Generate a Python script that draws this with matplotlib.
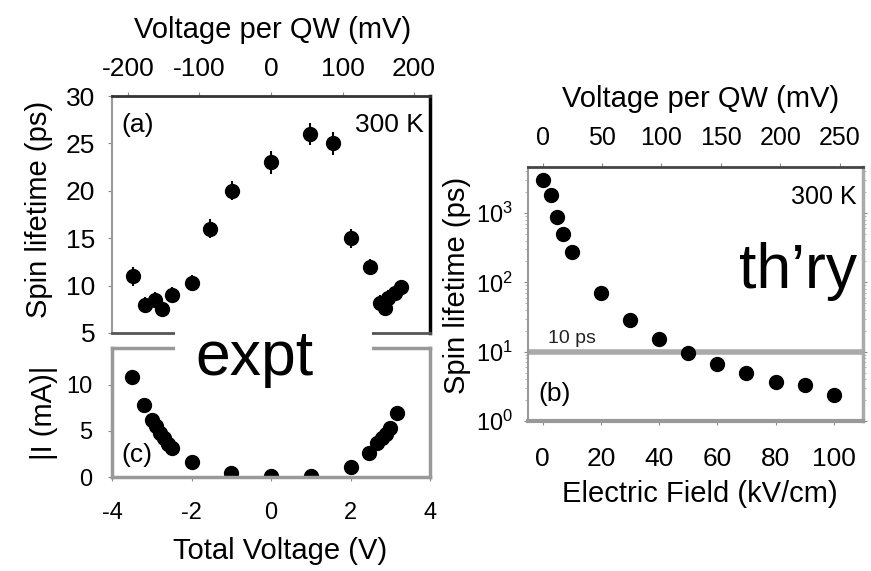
import matplotlib
matplotlib.use('Agg')
import matplotlib.pyplot as plt
from matplotlib.patches import Rectangle
from matplotlib.ticker import LogLocator, NullFormatter, FixedLocator

plt.rcParams['font.family'] = ['Liberation Sans', 'DejaVu Sans']
plt.rcParams['mathtext.fontset'] = 'custom'
plt.rcParams['mathtext.rm'] = 'Liberation Sans'
plt.rcParams['mathtext.it'] = 'Liberation Sans'
plt.rcParams['axes.unicode_minus'] = False

# (a) spin lifetime vs total voltage
volt_a = [-3.48, -3.18, -2.93, -2.73, -2.5, -2.0, -1.54, -0.98, 0.0, 0.98, 1.56,
          2.0, 2.5, 2.75, 2.88, 2.95, 3.13, 3.26]
tau_a = [11, 8, 8.5, 7.5, 9, 10.3, 16, 20, 23, 26, 25, 15, 12, 8.2, 7.6, 8.7, 9.2, 9.8]
err_a = [1, 0.8, 0.8, 0.8, 0.8, 0.8, 1, 1, 1.2, 1.2, 1.2, 1, 0.8, 0.8, 0.8, 0.8, 0.8, 0.8]

# (c) |I| vs total voltage
volt_c = [-3.5, -3.2, -3.0, -2.9, -2.8, -2.7, -2.6, -2.5, -2.0, -1.0, 0.0, 1.0,
          2.0, 2.46, 2.67, 2.78, 2.89, 3.0, 3.18]
cur_c = [10.8, 7.8, 6.2, 5.5, 4.8, 4.2, 3.6, 3.2, 1.6, 0.4, 0.1, 0.1,
         1.1, 2.6, 3.7, 4.2, 4.7, 5.3, 7.0]

# (b) spin lifetime vs electric field (theory)
field_b = [0, 3, 5, 7, 10, 20, 30, 40, 50, 60, 70, 80, 90, 100]
tau_b = [3000, 1800, 880, 490, 270, 70, 29, 15, 9.7, 6.7, 4.9, 3.7, 3.3, 2.4]

mv_per_v = 1000 / 18.0     # total voltage -> voltage per QW
mv_per_kv = 2.45           # field -> voltage per QW

fig = plt.figure(figsize=(8.71, 5.71), dpi=100)
W, H = 871.0, 571.0

def box(x0, x1, y0, y1):
    return [x0 / W, 1 - y1 / H, (x1 - x0) / W, (y1 - y0) / H]

# ---- panel (a)
ax_a = fig.add_axes(box(112, 430, 96, 333))
ax_a.errorbar(volt_a, tau_a, yerr=err_a, fmt='o', color='k', ms=10,
              elinewidth=1.5, capsize=0)
ax_a.set_xlim(-4, 4)
ax_a.set_ylim(5, 30)
ax_a.set_yticks([5, 10, 15, 20, 25, 30])
ax_a.tick_params(axis='y', labelsize=19, length=3, pad=9, color='#888')
ax_a.tick_params(axis='x', bottom=False, labelbottom=False)
ax_a.spines['left'].set_color('#999999')
ax_a.spines['left'].set_linewidth(1.5)
ax_a.spines['top'].set_color('#333333')
ax_a.spines['top'].set_linewidth(2)
ax_a.spines['right'].set_color('k')
ax_a.spines['right'].set_linewidth(2.5)
ax_a.spines['bottom'].set_color('#555555')
ax_a.spines['bottom'].set_linewidth(2)
ax_a.set_ylabel('Spin lifetime (ps)', fontsize=21)
ax_a.yaxis.set_label_coords(-0.185, 0.52)
sec_a = ax_a.secondary_xaxis('top', functions=(lambda v: v * mv_per_v, lambda m: m / mv_per_v))
sec_a.set_xticks([-200, -100, 0, 100, 200])
sec_a.tick_params(labelsize=19, length=3, pad=8, color='#888')
sec_a.spines['top'].set_visible(False)
sec_a.set_xlabel('Voltage per QW (mV)', fontsize=21)
sec_a.xaxis.set_label_coords(0.505, 1.245, transform=ax_a.transAxes)
ax_a.text(0.03, 0.93, '(a)', transform=ax_a.transAxes, fontsize=19, va='top')
ax_a.text(0.98, 0.93, '300 K', transform=ax_a.transAxes, fontsize=19, va='top', ha='right')

# ---- panel (c)
ax_c = fig.add_axes(box(112, 430, 348, 477))
ax_c.plot(volt_c, cur_c, 'o', color='k', ms=10)
ax_c.set_xlim(-4, 4)
ax_c.set_ylim(0, 14)
ax_c.set_yticks([0, 5, 10])
ax_c.set_xticks([-4, -2, 0, 2, 4])
ax_c.tick_params(axis='y', labelsize=17, length=3, pad=11, color='#888')
ax_c.tick_params(axis='x', labelsize=17, length=3, pad=15, color='#888')
for s in ['left', 'top', 'right', 'bottom']:
    ax_c.spines[s].set_color('#999999')
    ax_c.spines[s].set_linewidth(2.5)
ax_c.set_ylabel('|I (mA)|', fontsize=21)
ax_c.yaxis.set_label_coords(-0.17, 0.5)
ax_c.set_xlabel('Total Voltage (V)', fontsize=21)
ax_c.xaxis.set_label_coords(0.528, -0.465)
ax_c.text(0.03, 0.08, '(c)', transform=ax_c.transAxes, fontsize=19, va='bottom')

# ---- panel (b)
ax_b = fig.add_axes(box(528, 863, 167, 421))
ax_b.semilogy(field_b, tau_b, 'o', color='k', ms=10)
ax_b.axhline(10, color='#aaaaaa', lw=4, zorder=1)
ax_b.set_xlim(-5, 110)
ax_b.set_ylim(1, 4600)
ax_b.set_xticks([0, 20, 40, 60, 80, 100])
ax_b.yaxis.set_major_locator(FixedLocator([1, 10, 100, 1000]))
ax_b.set_yticklabels(['$10^{0}$', '$10^{1}$', '$10^{2}$', '$10^{3}$'])
ax_b.yaxis.set_minor_locator(LogLocator(base=10, subs=range(2, 10)))
ax_b.yaxis.set_minor_formatter(NullFormatter())
ax_b.tick_params(axis='y', which='major', labelsize=17, length=3, pad=8, color='#888', right=True)
ax_b.tick_params(axis='y', which='minor', length=2, color='#aaa', right=True)
ax_b.tick_params(axis='x', labelsize=19, length=3, pad=16, color='#888')
ax_b.spines['left'].set_color('#999999')
ax_b.spines['left'].set_linewidth(1.5)
ax_b.spines['top'].set_color('#444444')
ax_b.spines['top'].set_linewidth(2)
ax_b.spines['right'].set_color('#aaaaaa')
ax_b.spines['right'].set_linewidth(2.5)
ax_b.spines['bottom'].set_color('#999999')
ax_b.spines['bottom'].set_linewidth(3)
ax_b.set_ylabel('Spin lifetime (ps)', fontsize=21)
ax_b.yaxis.set_label_coords(-0.17, 0.535)
ax_b.set_xlabel('Electric Field (kV/cm)', fontsize=21)
ax_b.xaxis.set_label_coords(0.513, -0.232)
sec_b = ax_b.secondary_xaxis('top', functions=(lambda e: e * mv_per_kv, lambda m: m / mv_per_kv))
sec_b.set_xticks([0, 50, 100, 150, 200, 250])
sec_b.tick_params(labelsize=18, length=3, pad=9, color='#888')
sec_b.spines['top'].set_visible(False)
sec_b.set_xlabel('Voltage per QW (mV)', fontsize=21)
sec_b.xaxis.set_label_coords(0.516, 1.236, transform=ax_b.transAxes)
ax_b.text(0.98, 0.93, '300 K', transform=ax_b.transAxes, fontsize=18, va='top', ha='right')
ax_b.text(0.03, 0.06, '(b)', transform=ax_b.transAxes, fontsize=19, va='bottom')
ax_b.text(2, 11.5, '10 ps', fontsize=14, va='bottom', color='#222')

# big overlay labels
fig.patches.append(Rectangle((175 / W, 1 - 356 / H), 197 / W, 34 / H,
                             transform=fig.transFigure, facecolor='white',
                             edgecolor='none', zorder=5))
fig.text(254 / W, 1 - 375 / H, 'expt', fontsize=45, ha='center', va='baseline', zorder=6)
fig.text(857 / W, 1 - 288 / H, 'th\u2019ry', fontsize=45, ha='right', va='baseline', zorder=6)

fig.savefig('out.png', dpi=100)
